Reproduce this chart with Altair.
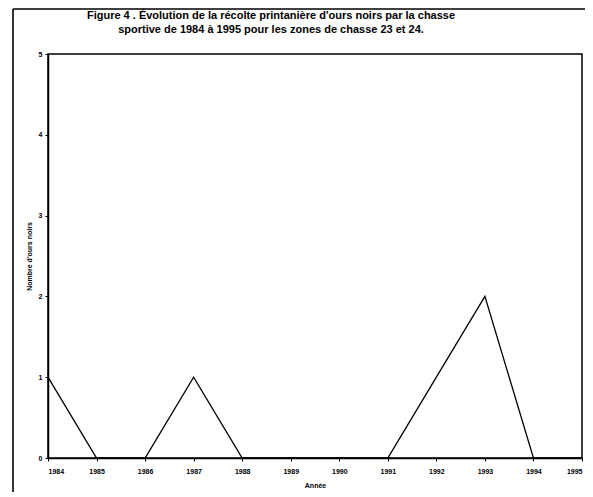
import altair as alt
import pandas as pd

years = [1984, 1985, 1986, 1987, 1988, 1989, 1990, 1991, 1992, 1993, 1994, 1995]
harvest = [1, 0, 0, 1, 0, 0, 0, 0, 1, 2, 0, 0]
y_ticks = [0, 1, 2, 3, 4, 5]
title_lines = [
    "Figure 4 . Évolution de la récolte printanière d'ours noirs par la chasse",
    "sportive de 1984 à 1995 pour les zones de chasse 23 et 24.",
]
x_title = "Année"
y_title = "Nombre d'ours noirs"

df = pd.DataFrame({"year": years, "n": harvest})

line = alt.Chart(df).mark_line(color="black", strokeWidth=1.3).encode(
    x=alt.X(
        "year:Q",
        scale=alt.Scale(domain=[years[0], years[-1]], nice=False, zero=False),
        axis=alt.Axis(values=years, format="d", title=x_title, grid=False,
                      tickSize=3, labelPadding=6, titlePadding=7,
                      labelFontSize=7, labelFontWeight="bold",
                      titleFontSize=7, titleFontWeight="bold"),
    ),
    y=alt.Y(
        "n:Q",
        scale=alt.Scale(domain=[0, 5], nice=False),
        axis=alt.Axis(values=y_ticks, format="d", title=y_title, grid=False,
                      tickSize=3, labelPadding=3, titlePadding=6,
                      labelFontSize=7, labelFontWeight="bold",
                      titleFontSize=7, titleFontWeight="bold"),
    ),
)

title_df = pd.DataFrame({"t": ["\n".join(title_lines)]})
title = alt.Chart(title_df).mark_text(
    font="Liberation Sans", fontSize=11, fontWeight="bold", color="black",
    align="center", baseline="top", lineBreak="\n", lineHeight=14,
).encode(text="t:N", x=alt.value(223), y=alt.value(-44))

frame_df = pd.DataFrame({"k": [0]})
frame_left = alt.Chart(frame_df).mark_rule(color="black", strokeWidth=1.6).encode(
    x=alt.value(-35), y=alt.value(-45), y2=alt.value(438))
frame_top = alt.Chart(frame_df).mark_rule(color="black", strokeWidth=1.6).encode(
    x=alt.value(-35), x2=alt.value(540), y=alt.value(-45))
frame_right = alt.Chart(frame_df).mark_rule(color="black", strokeWidth=1.6).encode(
    x=alt.value(540), y=alt.value(-45), y2=alt.value(438))

chart = alt.layer(line, title, frame_left, frame_top, frame_right).properties(
    width=534,
    height=404,
    autosize=alt.AutoSizeParams(type="none"),
    padding={"left": 40, "top": 46, "right": 3, "bottom": 34},
).configure_view(
    stroke="black", strokeWidth=1.5
).configure_axis(
    domainColor="black", domainWidth=1.5, tickColor="black",
    labelColor="black", titleColor="black",
    labelFont="Liberation Sans", titleFont="Liberation Sans",
)

chart.save("out.html", embed_options={"renderer": "svg", "actions": False})
